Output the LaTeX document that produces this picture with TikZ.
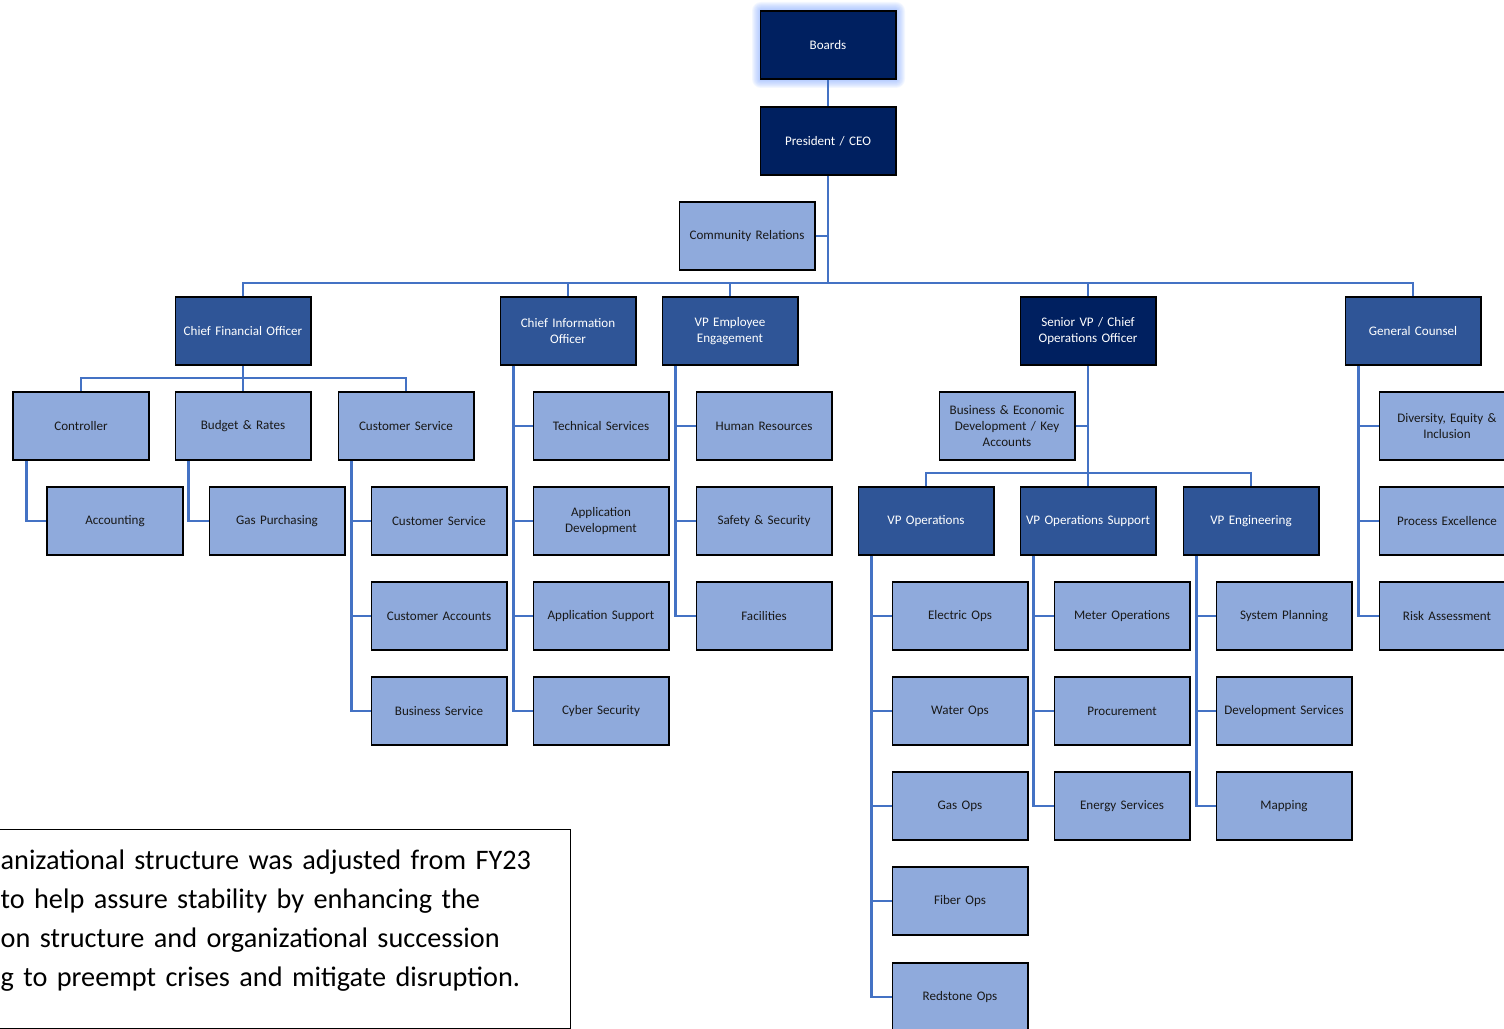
\documentclass[tikz,border=0pt]{standalone}
\usepackage{fontspec}
\setmainfont{Carlito}
\usepackage{xcolor}
\usetikzlibrary{positioning,calc}

\definecolor{navy}{HTML}{002060}
\definecolor{midblue}{HTML}{2F5597}
\definecolor{paleblue}{HTML}{8FAADC}
\definecolor{linkblue}{HTML}{4472C4}
\definecolor{glowblue}{HTML}{7FA6FF}

\begin{document}
\begin{tikzpicture}[x=0.025cm, y=-0.025cm, font=\fontsize{9.3}{11.5}\selectfont]
\tikzstyle{unit}=[draw=black, line width=1.4pt, minimum width=3.375cm, minimum height=1.7cm, inner sep=1pt, align=center, text width=3.3cm]
\tikzstyle{top}=[unit, fill=navy, text=white]
\tikzstyle{head}=[unit, fill=midblue, text=white]
\tikzstyle{dept}=[unit, fill=paleblue, text=black!90]
\tikzstyle{link}=[draw=linkblue, line width=1.6pt]
\useasboundingbox (0,0) rectangle (1504,1029);
\clip (0,0) rectangle (1504,1029);

% glow behind the board
\foreach \g in {1,...,9}
  \fill[glowblue, opacity=0.09, rounded corners=\g*0.025cm] ({761-\g},{11-\g}) rectangle ({896+\g},{79+\g});

% executive level
\node[top] (boards) at (828,45) {Boards};
\node[top] (ceo) at (828,141) {President / CEO};
\node[dept] (comm) at (747,236) {Community Relations};
\coordinate (bus) at (828,283);

% direct reports
\node[head] (cfo) at (243,331) {Chief Financial Officer};
\node[head] (cio) at (568,331) {Chief Information\\Officer};
\node[head] (vpee) at (730,331) {VP Employee\\Engagement};
\node[top] (coo) at (1088,331) {Senior VP / Chief\\Operations Officer};
\node[head] (gc) at (1413,331) {General Counsel};

% finance
\node[dept] (ctrl) at (81,426) {Controller};
\node[dept] (budget) at (243,426) {Budget \& Rates};
\node[dept] (cust) at (406,426) {Customer Service};
\node[dept] (acct) at (115,521) {Accounting};
\node[dept] (gas) at (277,521) {Gas Purchasing};
\node[dept] (custsvc) at (439,521) {Customer Service};
\node[dept] (custacc) at (439,616) {Customer Accounts};
\node[dept] (bizsvc) at (439,711) {Business Service};

% information
\node[dept] (tech) at (601,426) {Technical Services};
\node[dept] (appdev) at (601,521) {Application\\Development};
\node[dept] (appsup) at (601,616) {Application Support};
\node[dept] (cyber) at (601,711) {Cyber Security};

% employee engagement
\node[dept] (hr) at (764,426) {Human Resources};
\node[dept] (safety) at (764,521) {Safety \& Security};
\node[dept] (fac) at (764,616) {Facilities};

% operations
\node[dept] (bed) at (1007,426) {Business \& Economic\\Development / Key\\Accounts};
\node[head] (vpops) at (926,521) {VP Operations};
\node[head] (vpsup) at (1088,521) {VP Operations Support};
\node[head] (vpeng) at (1251,521) {VP Engineering};
\node[dept] (elec) at (960,616) {Electric Ops};
\node[dept] (water) at (960,711) {Water Ops};
\node[dept] (gasops) at (960,806) {Gas Ops};
\node[dept] (fiber) at (960,901) {Fiber Ops};
\node[dept] (red) at (960,997) {Redstone Ops};
\node[dept] (meter) at (1122,616) {Meter Operations};
\node[dept] (proc) at (1122,711) {Procurement};
\node[dept] (energy) at (1122,806) {Energy Services};
\node[dept] (plan) at (1284,616) {System Planning};
\node[dept] (devsvc) at (1284,711) {Development Services};
\node[dept] (map) at (1284,806) {Mapping};

% legal
\node[dept] (dei) at (1447,426) {Diversity, Equity \&\\Inclusion};
\node[dept] (pex) at (1447,521) {Process Excellence};
\node[dept] (risk) at (1447,616) {Risk Assessment};

% note
\node[draw=black, line width=0.9pt, anchor=north west, inner xsep=0.5cm, inner ysep=0.5cm, text width=13.75cm, align=left,
      font=\fontsize{20.1}{27.7}\selectfont] (note) at (-20,829)
  {anizational structure was adjusted from FY23\\to help assure stability by enhancing the\\on structure and organizational succession\\g to preempt crises and mitigate disruption.\rule[-16pt]{0pt}{1pt}};

% connectors
\draw[link] (boards) -- (ceo);
\draw[link] (ceo) -- (bus);
\draw[link] (comm.east) -- (comm.east -| ceo.south);
\foreach \n in {cfo,cio,vpee,coo,gc}
  \draw[link] (\n.north) |- (bus);

\draw[link] (cfo) -- (budget);
\draw[link] (ctrl.north) -- ++(0,-13) -| (cust.north);
\draw[link] ([xshift=0.35cm]ctrl.south west) |- (acct.west);
\draw[link] ([xshift=0.35cm]budget.south west) |- (gas.west);
\foreach \n in {custsvc,custacc,bizsvc}
  \draw[link] ([xshift=0.35cm]cust.south west) |- (\n.west);

\foreach \n in {tech,appdev,appsup,cyber}
  \draw[link] ([xshift=0.35cm]cio.south west) |- (\n.west);
\foreach \n in {hr,safety,fac}
  \draw[link] ([xshift=0.35cm]vpee.south west) |- (\n.west);

\draw[link] (coo) -- (vpsup);
\draw[link] (bed.east) -- (bed.east -| coo.south);
\draw[link] (vpops.north) -- ++(0,-13) -| (vpeng.north);
\foreach \n in {elec,water,gasops,fiber,red}
  \draw[link] ([xshift=0.35cm]vpops.south west) |- (\n.west);
\foreach \n in {meter,proc,energy}
  \draw[link] ([xshift=0.35cm]vpsup.south west) |- (\n.west);
\foreach \n in {plan,devsvc,map}
  \draw[link] ([xshift=0.35cm]vpeng.south west) |- (\n.west);

\foreach \n in {dei,pex,risk}
  \draw[link] ([xshift=0.35cm]gc.south west) |- (\n.west);
\end{tikzpicture}
\end{document}
